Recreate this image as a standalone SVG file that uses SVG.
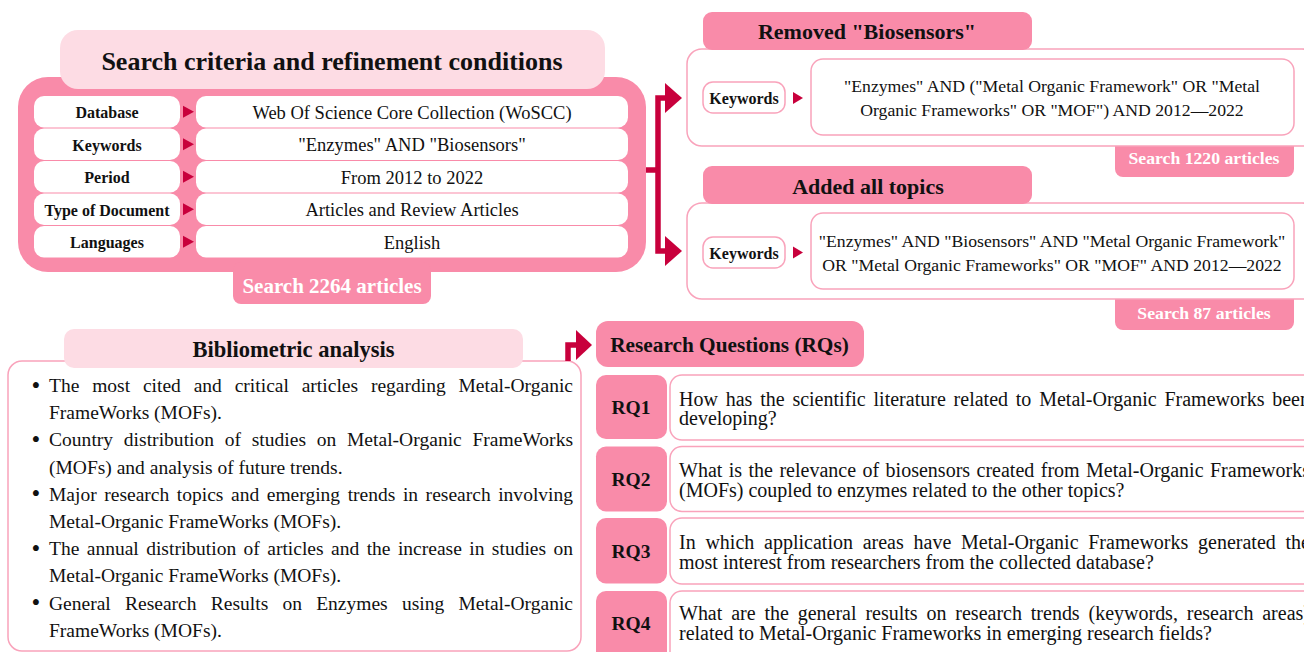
<svg xmlns="http://www.w3.org/2000/svg" width="1304" height="652" viewBox="0 0 1304 652">
<style>
text{font-family:"Liberation Serif","Times New Roman",serif;fill:#111;}
.b{font-weight:bold;}
.pink{fill:#F98BA9;}
.light{fill:#FDDCE4;}
.wbox{fill:#fff;stroke:#F9A3BB;stroke-width:1.5;}
.wfill{fill:#fff;}
.arr{fill:#C8003C;}
.ln{fill:none;stroke:#C8003C;stroke-width:5.5;}
.wt{fill:#fff;font-weight:bold;}
.lab{font-weight:bold;font-size:16px;text-anchor:middle;}
.val{font-size:18.5px;text-anchor:middle;}
.kw{font-size:17.7px;text-anchor:middle;}
.bl{font-size:19.5px;}
.bu{font-size:25px;}
.rq{font-size:20px;}
.rql{font-weight:bold;font-size:19.5px;text-anchor:middle;}
</style>
<rect width="1304" height="652" fill="#fff"/>

<g id="search-criteria">
  <rect class="pink" x="18" y="77" width="628" height="195" rx="30"/>
  <rect class="pink" x="233" y="262" width="198" height="42" rx="8"/>
  <text class="wt" x="332" y="293" font-size="21" text-anchor="middle">Search 2264 articles</text>
  <rect class="light" x="60" y="30" width="545" height="59" rx="18"/>
  <text class="b" x="332" y="70" font-size="26" text-anchor="middle">Search criteria and refinement conditions</text>
  <g id="row-database">
    <rect class="wfill" x="34" y="96" width="146" height="31.5" rx="10"/>
    <rect class="wfill" x="196" y="96" width="432" height="31.5" rx="10"/>
    <text class="lab" x="107" y="118">Database</text>
    <text class="val" x="412" y="118.5">Web Of Science Core Collection (WoSCC)</text>
  </g>
  <g id="row-keywords">
    <rect class="wfill" x="34" y="128.5" width="146" height="31.5" rx="10"/>
    <rect class="wfill" x="196" y="128.5" width="432" height="31.5" rx="10"/>
    <text class="lab" x="107" y="150.5">Keywords</text>
    <text class="val" x="412" y="151">"Enzymes" AND "Biosensors"</text>
  </g>
  <g id="row-period">
    <rect class="wfill" x="34" y="161" width="146" height="31.5" rx="10"/>
    <rect class="wfill" x="196" y="161" width="432" height="31.5" rx="10"/>
    <text class="lab" x="107" y="183">Period</text>
    <text class="val" x="412" y="183.5">From 2012 to 2022</text>
  </g>
  <g id="row-type">
    <rect class="wfill" x="34" y="193.5" width="146" height="31.5" rx="10"/>
    <rect class="wfill" x="196" y="193.5" width="432" height="31.5" rx="10"/>
    <text class="lab" x="107" y="215.5">Type of Document</text>
    <text class="val" x="412" y="216">Articles and Review Articles</text>
  </g>
  <g id="row-languages">
    <rect class="wfill" x="34" y="226" width="146" height="31.5" rx="10"/>
    <rect class="wfill" x="196" y="226" width="432" height="31.5" rx="10"/>
    <text class="lab" x="107" y="248">Languages</text>
    <text class="val" x="412" y="248.5">English</text>
  </g>
</g>

<g id="removed-biosensors">
  <rect class="pink" x="1115" y="135" width="179" height="42" rx="8"/>
  <text class="wt" x="1204" y="164" font-size="17.7" text-anchor="middle">Search 1220 articles</text>
  <rect class="wbox" x="687" y="49" width="630" height="97" rx="15"/>
  <rect class="pink" x="703" y="12" width="329" height="38" rx="9"/>
  <text class="b" x="867" y="39" font-size="22" text-anchor="middle">Removed "Biosensors"</text>
  <rect class="wbox" x="703" y="82" width="82" height="31" rx="10"/>
  <text class="lab" x="744" y="103.5">Keywords</text>
  <rect class="wbox" x="811" y="59" width="483" height="76" rx="12"/>
  <text class="kw" x="1052" y="92">"Enzymes" AND ("Metal Organic Framework" OR "Metal</text>
  <text class="kw" x="1052" y="116">Organic Frameworks" OR "MOF") AND 2012—2022</text>
</g>

<g id="added-all-topics">
  <rect class="pink" x="1115" y="288" width="179" height="42" rx="8"/>
  <text class="wt" x="1204" y="318.5" font-size="17.7" text-anchor="middle">Search 87 articles</text>
  <rect class="wbox" x="687" y="203" width="630" height="96" rx="15"/>
  <rect class="pink" x="703" y="166" width="329" height="38" rx="9"/>
  <text class="b" x="868" y="193.5" font-size="22" text-anchor="middle">Added all topics</text>
  <rect class="wbox" x="703" y="237" width="82" height="31" rx="10"/>
  <text class="lab" x="744" y="258.5">Keywords</text>
  <rect class="wbox" x="811" y="213" width="483" height="76" rx="12"/>
  <text class="kw" x="1052" y="247">"Enzymes" AND "Biosensors" AND "Metal Organic Framework"</text>
  <text class="kw" x="1052" y="271">OR "Metal Organic Frameworks" OR "MOF" AND 2012—2022</text>
</g>

<g id="bibliometric-analysis">
  <rect class="wbox" x="8" y="361" width="573" height="290" rx="14"/>
  <rect class="light" x="64" y="329" width="459" height="39" rx="10"/>
  <text class="b" x="293.5" y="357" font-size="22.5" text-anchor="middle">Bibliometric analysis</text>
  <g class="bl">
    <text class="bu" x="31.5" y="393.5">•</text>
    <text x="49" y="392" word-spacing="7.94" textLength="524" lengthAdjust="spacing">The most cited and critical articles regarding Metal-Organic</text>
    <text x="49" y="419.2">FrameWorks (MOFs).</text>
    <text class="bu" x="31.5" y="447.9">•</text>
    <text x="49" y="446.4" word-spacing="5.73" textLength="524" lengthAdjust="spacing">Country distribution of studies on Metal-Organic FrameWorks</text>
    <text x="49" y="473.6">(MOFs) and analysis of future trends.</text>
    <text class="bu" x="31.5" y="502.3">•</text>
    <text x="49" y="500.8" word-spacing="2.67" textLength="524" lengthAdjust="spacing">Major research topics and emerging trends in research involving</text>
    <text x="49" y="528">Metal-Organic FrameWorks (MOFs).</text>
    <text class="bu" x="31.5" y="556.7">•</text>
    <text x="49" y="555.2" word-spacing="2.57" textLength="524" lengthAdjust="spacing">The annual distribution of articles and the increase in studies on</text>
    <text x="49" y="582.4">Metal-Organic FrameWorks (MOFs).</text>
    <text class="bu" x="31.5" y="611.1">•</text>
    <text x="49" y="609.6" word-spacing="9.34" textLength="524" lengthAdjust="spacing">General Research Results on Enzymes using Metal-Organic</text>
    <text x="49" y="636.8">FrameWorks (MOFs).</text>
  </g>
</g>

<g id="research-questions">
  <rect class="pink" x="596" y="321" width="268" height="46" rx="12"/>
  <text class="b" x="729.5" y="352" font-size="21.3" text-anchor="middle">Research Questions (RQs)</text>
</g>

<g id="rq1">
  <rect class="pink" x="596" y="375" width="71" height="64" rx="10"/>
  <text class="rql" x="631" y="414">RQ1</text>
  <rect class="wbox" x="670" y="375" width="660" height="65" rx="12"/>
  <text class="rq" x="679" y="405.5" word-spacing="2.78" textLength="631" lengthAdjust="spacing">How has the scientific literature related to Metal-Organic Frameworks been</text>
  <text class="rq" x="679" y="425">developing?</text>
</g>
<g id="rq2">
  <rect class="pink" x="596" y="446.5" width="71" height="65" rx="10"/>
  <text class="rql" x="631" y="485.7">RQ2</text>
  <rect class="wbox" x="670" y="446.5" width="660" height="65" rx="12"/>
  <text class="rq" x="679" y="476.7" word-spacing="1.42" textLength="631" lengthAdjust="spacing">What is the relevance of biosensors created from Metal-Organic Frameworks</text>
  <text class="rq" x="679" y="496.5">(MOFs) coupled to enzymes related to the other topics?</text>
</g>
<g id="rq3">
  <rect class="pink" x="596" y="518" width="71" height="65.5" rx="10"/>
  <text class="rql" x="631" y="557.7">RQ3</text>
  <rect class="wbox" x="670" y="518" width="660" height="66" rx="12"/>
  <text class="rq" x="679" y="549" word-spacing="4.73" textLength="631" lengthAdjust="spacing">In which application areas have Metal-Organic Frameworks generated the</text>
  <text class="rq" x="679" y="568.5">most interest from researchers from the collected database?</text>
</g>
<g id="rq4">
  <rect class="pink" x="596" y="591" width="71" height="75" rx="10"/>
  <text class="rql" x="631" y="630">RQ4</text>
  <rect class="wbox" x="670" y="591" width="660" height="75" rx="12"/>
  <text class="rq" x="679" y="620" word-spacing="3.85" textLength="631" lengthAdjust="spacing">What are the general results on research trends (keywords, research areas)</text>
  <text class="rq" x="679" y="639.5">related to Metal-Organic Frameworks in emerging research fields?</text>
</g>

<g id="connectors">
  <polygon class="arr" points="183,105.75 194,111.75 183,117.75"/>
  <polygon class="arr" points="183,138.25 194,144.25 183,150.25"/>
  <polygon class="arr" points="183,170.75 194,176.75 183,182.75"/>
  <polygon class="arr" points="183,203.25 194,209.25 183,215.25"/>
  <polygon class="arr" points="183,235.75 194,241.75 183,247.75"/>
  <path class="ln" d="M646,170 H658 M658,95.3 V253.7 M655.3,98 H667 M655.3,251 H667"/>
  <polygon class="arr" points="665,83 682,98 665,113"/>
  <polygon class="arr" points="665,236 682,251 665,266"/>
  <polygon class="arr" points="793,92 803,98 793,104"/>
  <polygon class="arr" points="793,246.5 803,252.5 793,258.5"/>
  <path class="ln" d="M568,361 V345 H578"/>
  <polygon class="arr" points="576,330 592,345 576,360"/>
</g>
</svg>
